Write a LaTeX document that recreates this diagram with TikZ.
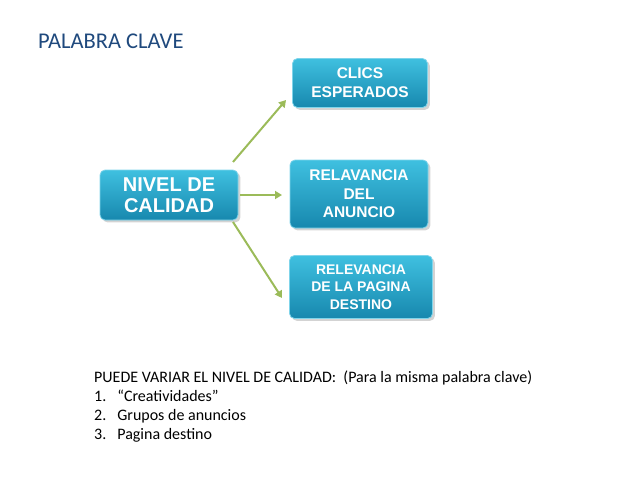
\documentclass[tikz,border=0pt]{standalone}
\usepackage{fontspec}
\setmainfont{Carlito}
\newfontfamily\boxfont{Liberation Sans}
\usetikzlibrary{shadows,arrows.meta}
\definecolor{boxtop}{HTML}{3FC0E0}
\definecolor{boxbot}{HTML}{1788AE}
\definecolor{boxline}{HTML}{7FD4EA}
\definecolor{arrowgreen}{HTML}{9BBB59}
\definecolor{titleblue}{HTML}{1F497D}
\begin{document}
\begin{tikzpicture}[x=1pt,y=-1pt,
  every node/.style={inner sep=0pt},
  keybox/.style={draw=boxline,thick,rounded corners=5pt,top color=boxtop,bottom color=boxbot,
    text=white,align=center,font=\boxfont\bfseries,drop shadow={opacity=0.35}},
  link/.style={draw=arrowgreen,line width=2pt,-{Triangle[length=7pt,width=8pt]}}]
\useasboundingbox (0,0) rectangle (638,479);

%boxes
\node[keybox,minimum width=138,minimum height=50,font=\boxfont\bfseries\fontsize{20}{21}\selectfont] (nivel) at (169,195) {NIVEL DE\\CALIDAD};
\node[keybox,minimum width=135,minimum height=49,font=\boxfont\bfseries\fontsize{15.5}{19}\selectfont] (clics) at (360,83) {CLICS\\ESPERADOS};
\node[keybox,minimum width=138,minimum height=68,font=\boxfont\bfseries\fontsize{15.5}{18.5}\selectfont] (anuncio) at (359,194) {RELAVANCIA\\DEL\\ANUNCIO};
\node[keybox,minimum width=143,minimum height=63,font=\boxfont\bfseries\fontsize{14}{17.5}\selectfont] (destino) at (361,287) {RELEVANCIA\\DE LA PAGINA\\DESTINO};

%arrows
\coordinate (a1) at (233,162);
\coordinate (a2) at (240,195);
\coordinate (a3) at (233,222);
\coordinate (b1) at (286,100);
\coordinate (b2) at (282,195);
\coordinate (b3) at (282,298);
\draw[link] (a1) -- (b1);
\draw[link] (a2) -- (b2);
\draw[link] (a3) -- (b3);

%texts
\node[anchor=west,text=titleblue,font=\fontsize{22.5}{26}\selectfont] (title) at (38,41) {PALABRA CLAVE};
\node[anchor=north west,align=left,font=\fontsize{16}{19}\selectfont] (notes) at (94,371)
  {PUEDE VARIAR EL NIVEL DE CALIDAD:\ \ (Para la misma palabra clave)\\
   1.\hspace{11pt}“Creatividades”\\
   2.\hspace{11pt}Grupos de anuncios\\
   3.\hspace{11pt}Pagina destino};
\end{tikzpicture}
\end{document}
